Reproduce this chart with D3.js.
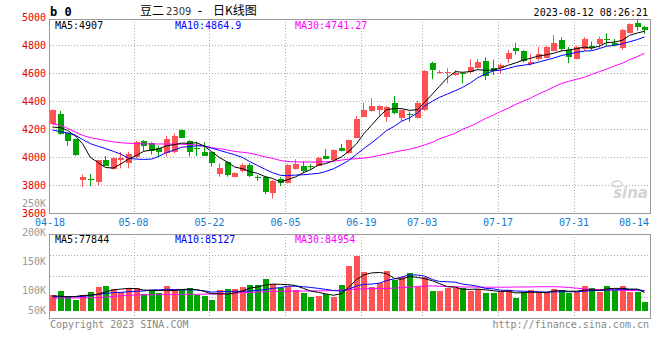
<!DOCTYPE html>
<html><head><meta charset="utf-8">
<script src="https://cdn.jsdelivr.net/npm/d3@7"></script>
<style>body{margin:0;background:#fff}svg{display:block}</style>
</head><body><svg id="c" width="660" height="360"></svg>
<script>
// ---------- data ----------
const dates = ["04-18","04-19","04-20","04-21","04-24","04-25","04-26","04-27","04-28",
"05-04","05-05","05-08","05-09","05-10","05-11","05-12","05-15","05-16","05-17","05-18","05-19",
"05-22","05-23","05-24","05-25","05-26","05-29","05-30","05-31",
"06-01","06-02","06-05","06-06","06-07","06-08","06-09","06-12","06-13","06-14","06-15","06-16",
"06-19","06-20","06-21","06-26","06-27","06-28","06-29","06-30",
"07-03","07-04","07-05","07-06","07-07","07-10","07-11","07-12","07-13","07-14",
"07-17","07-18","07-19","07-20","07-21","07-24","07-25","07-26","07-27","07-28",
"07-31","08-01","08-02","08-03","08-04","08-07","08-08","08-09","08-10","08-11","08-14"];
const dateTicks = ["04-18","05-08","05-22","06-05","06-19","07-03","07-17","07-31","08-14"];
const priceTicks = [5000,4800,4600,4400,4200,4000,3800,3600];
const priceGrid = [4800,4600,4400,4200,4000,3800];
const volTicks = [250000,200000,150000,100000,50000];

const open = [4236,4307,4169,4126,3831,3843,3824,3976,3916,3984,3959,4002,4114,4100,4066,4026,4034,4193,4114,4062,
4038,4038,3879,3964,3859,3895,3941,3855,3859,3741,3841,3816,3914,3936,3936,3938,4007,3979,4064,4026,
4138,4288,4329,4336,4284,4386,4276,4307,4281,4336,4669,4600,4602,4586,4600,4607,4638,4688,4638,4636,
4700,4779,4755,4664,4700,4712,4759,4836,4764,4700,4771,4793,4807,4845,4812,4784,4888,4957,4926];
const high = [4340,4329,4175,4130,3874,3879,3979,4007,4000,4036,4038,4115,4120,4105,4081,4150,4169,4195,4120,4109,
4105,4040,3955,3970,3890,3955,3955,3871,3865,3835,3855,3950,3984,3971,3950,4000,4057,4055,4093,4125,
4293,4388,4419,4370,4364,4436,4340,4324,4402,4620,4681,4621,4634,4620,4605,4698,4700,4712,4695,4669,
4764,4814,4764,4736,4788,4795,4871,4855,4786,4795,4855,4826,4859,4883,4843,4914,4955,4988,4938];
const low = [4230,4160,4081,4007,3788,3793,3795,3936,3910,3919,3919,3990,4043,4018,4002,4002,4026,4135,4002,4007,
4007,3931,3859,3859,3855,3890,3855,3829,3734,3705,3793,3810,3910,3884,3907,3935,3984,3975,4040,4020,
4135,4285,4325,4293,4252,4305,4252,4252,4275,4330,4555,4595,4526,4580,4526,4598,4630,4550,4585,4593,
4671,4731,4676,4652,4688,4705,4755,4755,4669,4698,4759,4764,4776,4795,4790,4764,4883,4902,4879];
const close = [4336,4162,4109,4014,3855,3840,3979,3936,3995,3995,4021,4109,4081,4043,4036,4129,4150,4138,4038,4055,
4007,3959,3919,3874,3886,3941,3864,3850,3752,3829,3816,3943,3950,3902,3932,3995,3986,4050,4043,4121,
4271,4336,4364,4364,4355,4312,4336,4300,4386,4616,4616,4607,4609,4602,4590,4640,4680,4584,4616,4657,
4743,4759,4684,4681,4736,4788,4814,4771,4712,4784,4843,4776,4843,4841,4800,4909,4950,4931,4902];
const ma5 = [4214,4210,4190,4150,4095,3996,3959,3925,3921,3949,3985,4011,4040,4050,4058,4080,4088,4099,4098,4102,
4078,4039,3996,3963,3929,3916,3897,3883,3859,3847,3822,3838,3858,3888,3909,3944,3953,3973,4001,4039,
4094,4164,4227,4291,4338,4346,4346,4333,4338,4390,4451,4505,4567,4610,4605,4610,4624,4619,4622,4635,
4656,4672,4692,4705,4721,4730,4741,4758,4764,4774,4785,4777,4792,4817,4821,4834,4869,4886,4898];
const ma10 = [4193,4181,4172,4155,4125,4095,4076,4060,4040,4022,3991,3985,3983,3985,4004,4032,4050,4070,4074,4080,
4079,4064,4047,4031,4016,3997,3968,3939,3911,3888,3869,3867,3871,3873,3878,3883,3896,3916,3945,3974,
4019,4059,4100,4146,4189,4220,4255,4280,4315,4364,4399,4426,4450,4474,4497,4530,4565,4593,4616,4620,
4633,4648,4656,4663,4678,4693,4706,4725,4735,4747,4757,4759,4775,4791,4797,4809,4823,4839,4858];
const ma30 = [4236,4228,4205,4178,4155,4138,4127,4118,4108,4102,4098,4096,4094,4093,4093,4093,4092,4091,4090,4086,
4078,4066,4060,4050,4040,4034,4028,4015,4000,3991,3975,3968,3965,3964,3964,3964,3966,3970,3978,3984,
3988,3992,4000,4012,4022,4035,4045,4055,4070,4086,4105,4130,4150,4170,4198,4220,4245,4275,4300,4325,
4350,4375,4400,4420,4450,4475,4500,4525,4540,4555,4570,4590,4610,4628,4650,4670,4695,4718,4741];

const vol = [67,84,60,46,67,80,101,105,92,81,97,97,71,88,76,105,92,88,97,67,
64,46,88,92,92,101,109,109,134,113,97,101,88,76,60,64,71,60,109,190,
232,165,102,119,169,130,144,161,102,142,85,85,95,95,95,85,91,77,77,81,
88,56,81,88,80,80,92,88,74,81,105,95,81,105,88,105,81,81,39].map(v=>v*1000);
const vma5 = [64,62,60,61,65,67,71,80,89,92,95,94,88,87,86,87,86,90,92,90,
82,72,72,71,76,84,96,101,109,113,112,111,107,95,84,78,72,66,73,99,
132,151,160,162,157,137,133,145,141,136,127,115,102,100,91,91,92,89,85,82,
83,76,77,79,79,77,84,86,83,83,88,89,87,93,95,95,92,92,78].map(v=>v*1000);
const vma10 = [60,60,60,60,61,65,70,74,77,78,81,83,84,88,89,91,90,89,89,88,
85,79,81,82,83,83,84,87,90,95,98,104,104,102,99,95,91,86,84,92,
105,112,113,117,128,135,142,152,151,147,132,124,123,121,113,109,104,95,93,87,
87,84,83,82,80,80,80,81,81,81,83,86,86,88,89,91,90,90,85].map(v=>v*1000);
const vma30 = [54,54,55,55,55,56,56,58,61,64,66,67,68,68,69,69,69,70,70,70,
71,72,73,74,75,77,78,80,81,82,83,83,84,84,84,85,85,86,88,90,
92,93,94,95,95,96,98,100,103,105,105,104,103,102,101,101,100,100,100,100,
100,101,101,101,102,102,102,101,99,96,93,91,90,89,88,87,86,85.5,85].map(v=>v*1000);

// ---------- drawing ----------
const svg = d3.select("#c");
const L = 50, R = 650;
const mono = "'DejaVu Sans Mono', monospace";
const RED = "#ff5252", GREEN = "#00a400";
const idx = d3.range(close.length);

const x = d3.scalePoint().domain(dates).range([L, R]);
const x0 = i => Math.round(x(dates[i]));
const xc = i => x0(i) + 2.5;
const y = d3.scaleLinear().domain([3600, 5000]).range([213, 17]);
const yv = d3.scaleLinear().domain([0, 100000]).range([311, 287.2]);
const yvLab = d3.scaleLinear().domain([100000, 150000]).range([290, 261]);
const up = i => close[i] >= open[i];

// grid main
const gMain = svg.append("g");
gMain.selectAll("line.h").data(priceGrid).enter().append("line")
  .attr("x1", L).attr("x2", R).attr("y1", d => Math.round(y(d)) + 0.5).attr("y2", d => Math.round(y(d)) + 0.5)
  .attr("stroke", "#aaa").attr("stroke-dasharray", "1,2");
const vTicks = dateTicks.slice(1, -1);
gMain.selectAll("line.v").data(vTicks).enter().append("line")
  .attr("x1", d => Math.round(x(d)) + 0.5).attr("x2", d => Math.round(x(d)) + 0.5)
  .attr("y1", 19).attr("y2", 213).attr("stroke", "#aaa").attr("stroke-dasharray", "1,2");
// volume grid
const volGridY = [255, 276, 297];
svg.selectAll("line.vh").data(volGridY).enter().append("line")
  .attr("x1", L).attr("x2", R).attr("y1", d => d + 0.5).attr("y2", d => d + 0.5)
  .attr("stroke", "#aaa").attr("stroke-dasharray", "1,2");
svg.selectAll("line.vv").data(vTicks).enter().append("line")
  .attr("x1", d => Math.round(x(d)) + 0.5).attr("x2", d => Math.round(x(d)) + 0.5)
  .attr("y1", 234).attr("y2", 318).attr("stroke", "#aaa").attr("stroke-dasharray", "1,2");

// watermark
const wm = svg.append("g").attr("fill", "#d4d4d4");
wm.append("text").attr("x", 648).attr("y", 198).attr("text-anchor", "end")
  .attr("font-family", "'DejaVu Sans', sans-serif").attr("font-size", 15).attr("font-weight", "bold")
  .attr("font-style", "italic").text("sina");
wm.append("ellipse").attr("cx", 617).attr("cy", 184).attr("rx", 5).attr("ry", 3).attr("fill", "none")
  .attr("stroke", "#d4d4d4").attr("stroke-width", 1.5);

// candles
const gC = svg.append("g");
gC.selectAll("line.w").data(idx).enter().append("line")
  .attr("x1", xc).attr("x2", xc).attr("y1", i => y(high[i])).attr("y2", i => y(low[i]))
  .attr("stroke", i => up(i) ? RED : GREEN);
gC.selectAll("rect").data(idx).enter().append("rect")
  .attr("x", x0).attr("width", 6)
  .attr("y", i => Math.round(y(Math.max(open[i], close[i]))))
  .attr("height", i => Math.max(1, Math.round(Math.abs(y(open[i]) - y(close[i])))))
  .attr("fill", i => up(i) ? RED : GREEN);

// MA lines
const lineP = d3.line().x((d, i) => xc(i)).y(d => y(d));
[[ma30, "#ff00ff"], [ma10, "#0000ff"], [ma5, "#000"]].forEach(([arr, col]) => {
  svg.append("path").attr("d", lineP(arr)).attr("fill", "none").attr("stroke", col).attr("stroke-width", 1);
});

// volume bars
svg.selectAll("rect.v").data(idx).enter().append("rect")
  .attr("x", x0).attr("width", 6)
  .attr("y", i => Math.round(yv(vol[i]))).attr("height", i => 311 - Math.round(yv(vol[i])))
  .attr("fill", i => up(i) ? RED : GREEN);
const lineV = d3.line().x((d, i) => xc(i)).y(d => yv(d));
[[vma30, "#ff00ff"], [vma10, "#0000ff"], [vma5, "#000"]].forEach(([arr, col]) => {
  svg.append("path").attr("d", lineV(arr)).attr("fill", "none").attr("stroke", col).attr("stroke-width", 1);
});

// borders
const border = (x1, y1, x2, y2) => svg.append("line").attr("x1", x1).attr("y1", y1).attr("x2", x2).attr("y2", y2)
  .attr("stroke", "#999").attr("stroke-width", 1);
border(L - 0.5, 19, L - 0.5, 214); border(R + 0.5, 19, R + 0.5, 214);
border(L - 0.5, 19.5, R + 0.5, 19.5); border(L - 0.5, 213.5, R + 0.5, 213.5);
border(L - 0.5, 234, L - 0.5, 319); border(R + 0.5, 234, R + 0.5, 319);
border(L - 0.5, 234.5, R + 0.5, 234.5); border(L - 0.5, 318.5, R + 0.5, 318.5);

// y axis labels (price)
svg.append("g").selectAll("text").data(priceTicks).enter().append("text")
  .attr("x", 46).attr("y", d => y(d)).attr("dy", "0.35em").attr("text-anchor", "end")
  .attr("font-family", mono).attr("font-size", 10).attr("fill", "#e00000").text(d => d);
// volume labels
svg.append("g").selectAll("text").data(volTicks).enter().append("text")
  .attr("x", 46).attr("y", d => Math.min(310, yvLab(d))).attr("dy", "0.35em").attr("text-anchor", "end")
  .attr("font-family", mono).attr("font-size", 10).attr("fill", "#999").text(d => (d / 1000) + "K");

// date labels
svg.append("g").selectAll("text").data(dateTicks).enter().append("text")
  .attr("x", d => Math.min(x(d), 634)).attr("y", 222).attr("dy", "0.35em").attr("text-anchor", "middle")
  .attr("font-family", mono).attr("font-size", 10).attr("fill", "#1478d2").text(d => d);

// headers
const t = (xx, yy, s, o = {}) => svg.append("text").attr("x", xx).attr("y", yy).attr("dy", "0.35em")
  .attr("font-family", o.f || mono).attr("font-size", o.s || 10).attr("fill", o.c || "#000")
  .attr("font-weight", o.w || "normal").attr("text-anchor", o.a || "start").text(s);
t(50, 11.5, "b 0", {s: 12, w: "bold"});
t(140, 11, "豆二", {f: "'Noto Sans CJK SC', sans-serif", s: 12});
t(166, 11.5, "2309", {f: "'DejaVu Sans', sans-serif", s: 10, c: "#333"});
t(200, 11, "-", {f: "'DejaVu Sans', sans-serif", s: 12, a: "middle"});
t(213, 11, "日K线图", {f: "'Noto Sans CJK SC', sans-serif", s: 12});
t(648, 12, "2023-08-12 08:26:21", {a: "end"});
t(55, 25, "MA5:4907", {c: "#000"});
t(175, 25, "MA10:4864.9", {c: "#0000ff"});
t(295, 25, "MA30:4741.27", {c: "#ff00ff"});
t(55, 239, "MA5:77844", {c: "#000"});
t(175, 239, "MA10:85127", {c: "#0000ff"});
t(295, 239, "MA30:84954", {c: "#ff00ff"});
t(50, 324, "Copyright 2023 SINA.COM", {c: "#888"});
t(649, 324, "http://finance.sina.com.cn", {c: "#888", a: "end"});
</script></body></html>
